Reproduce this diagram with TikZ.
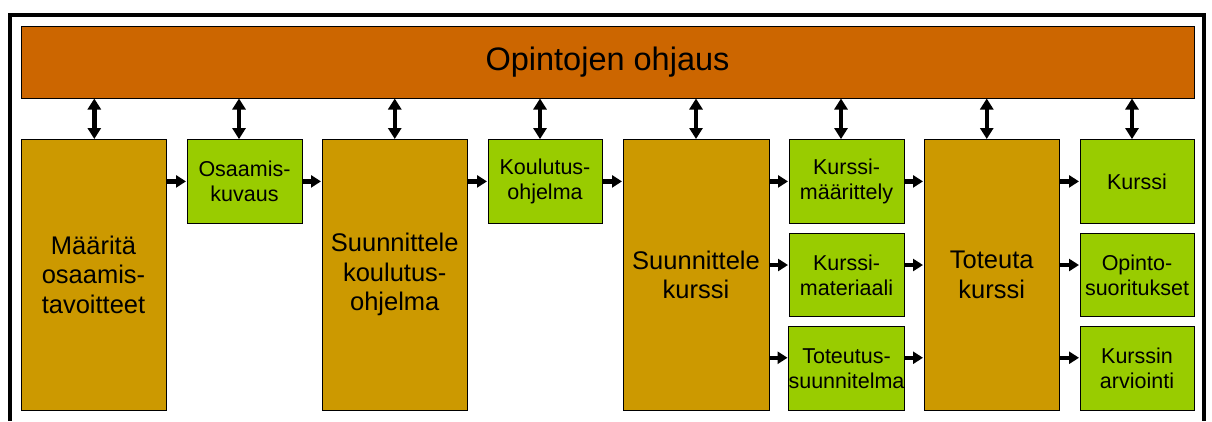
\documentclass[tikz,border=0pt]{standalone}
\usepackage{fontspec}
\setmainfont{Liberation Sans}
\usetikzlibrary{arrows.meta}
\definecolor{barfill}{HTML}{CC6600}
\definecolor{taskfill}{HTML}{CC9900}
\definecolor{outfill}{HTML}{99CC00}
\tikzset{
  box/.style={draw=black, line width=1pt, inner sep=0pt, align=center},
  bar/.style={box, fill=barfill, font=\fontsize{32.5}{37}\selectfont},
  task/.style={box, fill=taskfill, minimum height=270.5pt,
               font=\fontsize{25.5}{29.5}\selectfont},
  result/.style={box, fill=outfill, minimum width=115pt, minimum height=83.6pt,
               font=\fontsize{21.5}{24.8}\selectfont},
  flow/.style={line width=4.5pt, -{Triangle[length=10pt,width=12pt]}, shorten >=0.5pt},
  link/.style={line width=4.5pt, {Triangle[length=11pt,width=13pt]}-{Triangle[length=11pt,width=13pt]}},
}
\begin{document}
\begin{tikzpicture}[x=1pt, y=-1pt]
  \useasboundingbox (0,0) rectangle (1212,421);

  % open outer frame
  \coordinate (fbl) at (10.3,421);
  \coordinate (ftl) at (10.3,15.3);
  \coordinate (ftr) at (1204,15.3);
  \coordinate (fbr) at (1204,421);
  \draw[line width=4pt] (fbl) -- (ftl) -- (ftr) -- (fbr);

  % guidance bar
  \node[bar, minimum width=1173pt, minimum height=72pt] (top) at (607.5,62) {Opintojen ohjaus};

  % process steps
  \node[task, minimum width=145pt]   (m1) at (93.5,274.75)  {Määritä\\osaamis-\\tavoitteet};
  \node[task, minimum width=145.5pt] (s1) at (394.75,274.75) {Suunnittele\\koulutus-\\ohjelma};
  \node[task, minimum width=146pt]   (sk) at (696,274.75)   {Suunnittele\\kurssi};
  \node[task, minimum width=135.5pt] (tk) at (991.75,274.75) {Toteuta\\kurssi};

  % results
  \node[result] (o1) at (244.5,181.4) {Osaamis-\\kuvaus};
  \node[result, minimum width=114pt] (o2) at (545,181.4) {Koulutus-\\ohjelma};
  \node[result] (k1) at (846.5,181.4) {Kurssi-\\määrittely};
  \node[result] (k2) at (846.5,275)   {Kurssi-\\materiaali};
  \node[result] (k3) at (846.5,368.35) {Toteutus-\\suunnitelma};
  \node[result, minimum width=114pt] (r1) at (1137,181.4) {Kurssi};
  \node[result, minimum width=114pt] (r2) at (1137,275)   {Opinto-\\suoritukset};
  \node[result, minimum width=114pt] (r3) at (1137,368.35) {Kurssin\\arviointi};

  % links to the guidance bar
  \foreach \n/\dx in {m1/0.8, o1/-5.5, s1/0, o2/-5, sk/0, k1/-5.5, tk/-5, r1/-5}{
    \draw[link] ([xshift=\dx pt]\n.north |- top.south) -- ([xshift=\dx pt]\n.north);
  }

  % arrow levels of the lower two rows
  \coordinate (k2w) at ([yshift=10pt]k2.west);
  \coordinate (k2e) at ([yshift=10pt]k2.east);
  \coordinate (k3w) at ([yshift=10.6pt]k3.west);
  \coordinate (k3e) at ([yshift=10.6pt]k3.east);
  \coordinate (r2w) at ([yshift=10pt]r2.west);
  \coordinate (r3w) at ([yshift=10.6pt]r3.west);

  % flow between steps
  \draw[flow] (m1.east |- o1.west) -- (o1.west);
  \draw[flow] (o1.east) -- (s1.west |- o1.east);
  \draw[flow] (s1.east |- o2.west) -- (o2.west);
  \draw[flow] (o2.east) -- (sk.west |- o2.east);
  \draw[flow] (sk.east |- k1.west) -- (k1.west);
  \draw[flow] (sk.east |- k2w) -- (k2w);
  \draw[flow] (sk.east |- k3w) -- (k3w);
  \draw[flow] (k1.east) -- (tk.west |- k1.east);
  \draw[flow] (k2e) -- (tk.west |- k2e);
  \draw[flow] (k3e) -- (tk.west |- k3e);
  \draw[flow] (tk.east |- r1.west) -- (r1.west);
  \draw[flow] (tk.east |- r2w) -- (r2w);
  \draw[flow] (tk.east |- r3w) -- (r3w);
\end{tikzpicture}
\end{document}
